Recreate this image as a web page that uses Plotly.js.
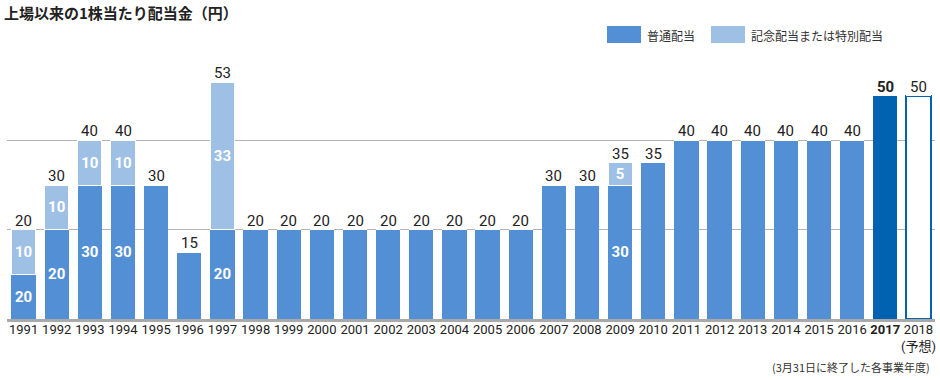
<!DOCTYPE html>
<html>
<head>
<meta charset="utf-8">
<script src="https://cdn.plot.ly/plotly-3.0.1.min.js"></script>
<style>html,body{margin:0;padding:0;background:#fff;}#chart{width:940px;height:380px;}</style>
</head>
<body>
<div id="chart"></div>
<script>
// ---- data ----
const years = ['1991','1992','1993','1994','1995','1996','1997','1998','1999','2000','2001','2002','2003','2004','2005','2006','2007','2008','2009','2010','2011','2012','2013','2014','2015','2016','2017','2018'];
const tickLabels = ['1991','1992','1993','1994','1995','1996','1997','1998','1999','2000','2001','2002','2003','2004','2005','2006','2007','2008','2009','2010','2011','2012','2013','2014','2015','2016','<b>2017</b>','2018<br>(予想)'];
// bar heights as drawn in the reference
const ordinary = [10,20,30,30,30,15,20,20,20,20,20,20,20,20,20,20,30,30,30,35,40,40,40,40,40,40,50,50];
const special  = [10,10,10,10,0,0,33,0,0,0,0,0,0,0,0,0,0,0,5,0,0,0,0,0,0,0,0,0];
// inside labels as printed in the reference (only on split bars)
const ordinaryLabels = ['20','20','30','30','','','20','','','','','','','','','','','','30','','','','','','','','',''];
const specialLabels  = ['10','10','10','10','','','33','','','','','','','','','','','','5','','','','','','','','',''];
const seriesNames = ['普通配当','記念配当または特別配当'];
const chartTitle = '上場以来の1株当たり配当金（円）';
const footNote = '(3月31日に終了した各事業年度)';

// ---- styles ----
const C_ORD = '#528fd4', C_SPE = '#9ec0e5', C_2017 = '#0062b0';
const NUM_FONT = 'Roboto, Noto Sans CJK JP, sans-serif';
const JP_FONT = 'Noto Sans CJK JP, sans-serif';
const W = 940, H = 380, ML = 7, MR = 5, MT = 51, MB = 61;
const PW = W - ML - MR, PH = H - MT - MB;
const px2x = p => (p - ML) / PW;
const px2y = p => (H - MB - p) / PH;

const n = years.length;
const ordColors = years.map((y,i) => i === n-2 ? C_2017 : (i === n-1 ? '#ffffff' : C_ORD));
const ordLineColors = years.map((y,i) => i === n-1 ? C_2017 : C_ORD);
const ordLineWidths = years.map((y,i) => i === n-1 ? 2 : 0);

const insideFont = {family:NUM_FONT, size:15, color:'#ffffff', weight:'bold'};
const traces = [
  {type:'bar', name:seriesNames[0], x:years, y:ordinary,
   marker:{color:ordColors, line:{color:ordLineColors, width:ordLineWidths}},
   text:ordinaryLabels, textposition:'inside', insidetextanchor:'middle', constraintext:'none', textangle:0,
   textfont:insideFont, insidetextfont:insideFont,
   hoverinfo:'x+y', showlegend:false},
  {type:'bar', name:seriesNames[1], x:years, y:special,
   marker:{color:C_SPE, line:{color:'#ffffff', width:1}},
   text:specialLabels, textposition:'inside', insidetextanchor:'middle', constraintext:'none', textangle:0,
   textfont:insideFont, insidetextfont:insideFont,
   hoverinfo:'x+y', showlegend:false}
];

const annotations = years.map((yr,i) => {
  const tot = ordinary[i] + special[i];
  return {x:i, y:tot, xref:'x', yref:'y', text: i === n-2 ? '<b>'+tot+'</b>' : String(tot),
    showarrow:false, yanchor:'bottom', yshift:-2,
    font:{family:NUM_FONT, size:15, color:'#222222'}};
});
// legend texts
annotations.push({xref:'paper', yref:'paper', x:px2x(645), y:px2y(35), xanchor:'left', yanchor:'middle',
  text:seriesNames[0], showarrow:false, font:{family:JP_FONT, size:12, color:'#333333'}});
annotations.push({xref:'paper', yref:'paper', x:px2x(749), y:px2y(35), xanchor:'left', yanchor:'middle',
  text:seriesNames[1], showarrow:false, font:{family:JP_FONT, size:12, color:'#333333'}});
// footnote
annotations.push({xref:'paper', yref:'paper', x:px2x(932), y:px2y(367), xanchor:'right', yanchor:'middle',
  text:footNote, showarrow:false, font:{family:JP_FONT, size:11, color:'#333333'}});

const shapes = [
  {type:'rect', xref:'paper', yref:'paper', x0:px2x(607), x1:px2x(641), y0:px2y(43), y1:px2y(26), fillcolor:C_ORD, line:{width:0}},
  {type:'rect', xref:'paper', yref:'paper', x0:px2x(711), x1:px2x(745), y0:px2y(43), y1:px2y(26), fillcolor:C_SPE, line:{width:0}}
];

const layout = {
  width:W, height:H,
  margin:{l:ML, r:MR, t:MT, b:MB, pad:0},
  paper_bgcolor:'#ffffff', plot_bgcolor:'#ffffff',
  barmode:'stack', bargap:0.27,
  title:{text:'<b>'+chartTitle+'</b>', xref:'container', yref:'container', x:4/W, xanchor:'left', y:1-14/H, yanchor:'middle',
    font:{family:JP_FONT, size:15, color:'#222222'}},
  xaxis:{type:'category', tickvals:years, ticktext:tickLabels, range:[-0.5, n-0.5], tickangle:0, automargin:false,
    showline:true, linecolor:'#a9a9a9', linewidth:3, ticks:'', showgrid:false, ticklabelstandoff:-4,
    tickfont:{family:NUM_FONT, size:13, color:'#222222'}, fixedrange:true},
  yaxis:{range:[0,60.05], dtick:20, showticklabels:false, showgrid:true, gridcolor:'#b3b3b3', gridwidth:1,
    zeroline:false, ticks:'', fixedrange:true},
  annotations:annotations,
  shapes:shapes,
  font:{family:NUM_FONT}
};

Plotly.newPlot('chart', traces, layout, {displayModeBar:false, staticPlot:true});
</script>
</body>
</html>
